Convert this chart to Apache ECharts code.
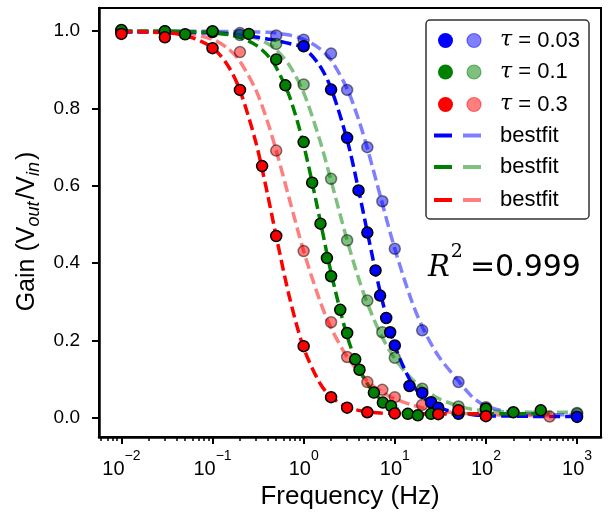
<!DOCTYPE html>
<html><head><meta charset="utf-8">
<script src="https://cdn.jsdelivr.net/npm/echarts@6/dist/echarts.min.js"></script>
<style>html,body{margin:0;padding:0;background:#fff}#c{width:609px;height:518px}</style>
</head><body><div id="c"></div>
<script>
// ---- tick values ----
const xTicks = [0.01, 0.1, 1, 10, 100, 1000];
const yTicks = [0, 0.2, 0.4, 0.6, 0.8, 1.0];

// ---- measured points (frequency Hz, gain) ----
const fBlue  = [0.01, 0.03, 0.1, 1, 2, 3, 4, 5, 6.15, 6.9, 8.05, 8.9, 10, 14.5, 20, 25, 30, 50, 1000];
const gBlue  = [1.0, 0.999, 0.998, 0.961, 0.849, 0.724, 0.588, 0.479, 0.381, 0.316, 0.258, 0.221, 0.187, 0.082, 0.064, 0.040, 0.026, 0.010, 0.002];
const fGreen = [0.01, 0.03, 0.05, 0.1, 0.25, 0.5, 0.63, 1, 1.24, 1.53, 1.8, 2, 2.52, 3, 3.68, 4.1, 5.9, 7.4, 9.1, 13.9, 17.9, 25, 100, 200, 400];
const gGreen = [1.003, 1.0, 0.992, 1.0, 0.993, 0.927, 0.86, 0.713, 0.608, 0.502, 0.413, 0.366, 0.279, 0.219, 0.151, 0.124, 0.065, 0.039, 0.030, 0.010, 0.006, 0.010, 0.023, 0.014, 0.019];
const fRed   = [0.01, 0.03, 0.1, 0.2, 0.35, 0.5, 1, 2, 3, 5, 10, 30, 50, 100];
const gRed   = [0.993, 0.984, 0.956, 0.848, 0.651, 0.470, 0.185, 0.053, 0.026, 0.014, 0.011, 0.009, 0.019, 0.004];

const fBlueL  = [0.2, 0.5, 1, 2, 3, 5, 7.3, 10, 20, 50, 100, 1000];
const gBlueL  = [0.995, 0.989, 0.978, 0.942, 0.848, 0.700, 0.560, 0.437, 0.226, 0.092, 0.027, 0.010];
const fGreenL = [0.2, 0.5, 1, 2, 3, 5, 7.3, 10, 20, 50, 100, 1000];
const gGreenL = [0.990, 0.967, 0.862, 0.618, 0.459, 0.303, 0.221, 0.155, 0.075, 0.029, 0.023, 0.012];
const fRedL   = [0.2, 0.5, 1, 2, 3, 5, 7.3, 10, 20, 50, 100, 500];
const gRedL   = [0.946, 0.691, 0.431, 0.247, 0.157, 0.092, 0.072, 0.053, 0.033, 0.015, 0.010, 0.003];

// ---- best-fit curves ----
const fitF = [0.01, 0.02, 0.05, 0.1, 0.15, 0.2, 0.3, 0.4, 0.5, 0.7, 1, 1.5, 2, 3, 4, 5, 7, 10, 15, 20, 30, 50, 70, 100, 200, 500, 1000];
const fitBlue   = [0.998, 0.998, 0.997, 0.995, 0.993, 0.990, 0.985, 0.980, 0.976, 0.968, 0.957, 0.911, 0.852, 0.719, 0.590, 0.480, 0.320, 0.187, 0.093, 0.055, 0.027, 0.012, 0.008, 0.005, 0.004, 0.003, 0.003];
const fitGreen  = [1.0, 1.0, 0.999, 0.996, 0.991, 0.984, 0.964, 0.938, 0.906, 0.831, 0.706, 0.516, 0.375, 0.211, 0.131, 0.088, 0.047, 0.025, 0.014, 0.011, 0.010, 0.010, 0.010, 0.010, 0.010, 0.010];
const fitRed    = [0.999, 0.998, 0.989, 0.957, 0.908, 0.847, 0.711, 0.580, 0.469, 0.311, 0.181, 0.090, 0.054, 0.027, 0.019, 0.015, 0.012, 0.011, 0.010, 0.010, 0.010, 0.010, 0.010, 0.010];
const fitBlueL  = [1.0, 1.0, 1.0, 1.0, 0.999, 0.999, 0.998, 0.997, 0.995, 0.990, 0.979, 0.955, 0.925, 0.851, 0.772, 0.697, 0.570, 0.437, 0.308, 0.236, 0.160, 0.095, 0.055, 0.030, 0.013, 0.008, 0.007];
const fitGreenL = [1.0, 1.0, 0.999, 0.998, 0.995, 0.992, 0.982, 0.968, 0.952, 0.911, 0.841, 0.719, 0.613, 0.459, 0.361, 0.296, 0.216, 0.153, 0.103, 0.077, 0.050, 0.030, 0.022, 0.018, 0.015, 0.014, 0.014];
const fitRedL   = [1.0, 0.999, 0.995, 0.979, 0.954, 0.922, 0.847, 0.767, 0.691, 0.564, 0.431, 0.304, 0.232, 0.157, 0.120, 0.095, 0.068, 0.049, 0.034, 0.026, 0.018, 0.012, 0.010, 0.008, 0.006, 0.005];

const legendLabels = ['τ = 0.03', 'τ = 0.1', 'τ = 0.3', 'bestfit', 'bestfit', 'bestfit'];
const rSquaredText = '0.999';

// ---- helpers ----
function pairs(f, g) { const n = Math.min(f.length, g.length); const out = []; for (let i = 0; i < n; i++) out.push([f[i], g[i]]); return out; }
const FONT = 'Liberation Sans';
const C = {
  blue: '#0000ff', green: '#008000', red: '#ff0000',
  blueL: 'rgba(0,0,255,0.5)', greenL: 'rgba(0,128,0,0.5)', redL: 'rgba(255,0,0,0.5)'
};
function fitSeries(name, data, color, z) {
  return { name, type: 'line', data, smooth: 0.3, symbol: 'none', silent: true, z,
    lineStyle: { color, width: 3.5, type: [11, 5], cap: 'butt' } };
}
function ptSeries(name, data, color, edge, z) {
  return { name, type: 'scatter', data, symbol: 'circle', symbolSize: 11, silent: true, z,
    itemStyle: { color, borderColor: edge, borderWidth: 1.5, opacity: 1 } };
}
const minorTicks = [];
for (let d = -3; d <= 3; d++) for (let k = 2; k <= 9; k++) {
  const v = +(k * Math.pow(10, d)).toPrecision(3);
  if (v > 0.00568 && v < 1832) minorTicks.push(v);
}
const xMin = 0.00568, xMax = 1832;

const chart = echarts.init(document.getElementById('c'), null, { renderer: 'canvas' });
const legendX1 = 445.5, legendX2 = 474, rows = [40.5, 72, 104.5, 135.5, 167, 200];
const legendGraphics = [
  { type: 'rect', shape: { x: 426, y: 20, width: 163, height: 199, r: 4 }, style: { fill: '#fff', stroke: '#333', lineWidth: 1.5 }, z: 100 }
];
const darkCols = [C.blue, C.green, C.red], lightCols = [C.blueL, C.greenL, C.redL];
for (let i = 0; i < 3; i++) {
  legendGraphics.push({ type: 'circle', shape: { cx: legendX1, cy: rows[i], r: 7.5 }, style: { fill: darkCols[i] }, z: 101 });
  legendGraphics.push({ type: 'circle', shape: { cx: legendX2, cy: rows[i], r: 7 }, style: { fill: lightCols[i], stroke: lightCols[i], lineWidth: 1.2 }, z: 101 });
  legendGraphics.push({ type: 'line', shape: { x1: 434, y1: rows[i + 3], x2: 452, y2: rows[i + 3] }, style: { stroke: darkCols[i], lineWidth: 4 }, z: 101 });
  legendGraphics.push({ type: 'line', shape: { x1: 463, y1: rows[i + 3], x2: 481, y2: rows[i + 3] }, style: { stroke: lightCols[i], lineWidth: 4 }, z: 101 });
}
for (let i = 0; i < 6; i++) {
  const isTau = i < 3;
  legendGraphics.push({ type: 'text', x: 500, y: rows[i], z: 101, style: isTau ? {
      text: '{t|τ}{n| = ' + legendLabels[i].split('= ')[1] + '}', verticalAlign: 'middle', align: 'left',
      rich: { t: { fontFamily: 'DejaVu Serif', fontStyle: 'italic', fontSize: 22, fill: '#000' },
              n: { fontFamily: FONT, fontSize: 22, fill: '#000' } } }
    : { text: legendLabels[i], font: '22px ' + FONT, fill: '#000', verticalAlign: 'middle', align: 'left' } });
}
legendGraphics.push({ type: 'text', x: 428, y: 263, z: 50, style: {
  text: '{r|R}{s|2}{t|=' + rSquaredText + '}', verticalAlign: 'middle', align: 'left',
  rich: {
    r: { fontFamily: 'DejaVu Serif', fontStyle: 'italic', fontSize: 29, lineHeight: 40, verticalAlign: 'bottom', fill: '#000' },
    s: { fontFamily: 'DejaVu Serif', fontSize: 19, lineHeight: 26, verticalAlign: 'top', fill: '#000', padding: [0, 0, 0, 1] },
    t: { fontFamily: 'DejaVu Sans', fontSize: 30, lineHeight: 40, verticalAlign: 'bottom', fill: '#000', padding: [0, 0, 0, 7] }
  } } });

const option = {
  animation: false,
  backgroundColor: '#fff',
  grid: { left: 99, top: 8, width: 502, height: 429, show: true, borderColor: '#000', borderWidth: 2, backgroundColor: 'transparent' },
  xAxis: [{
    type: 'log', logBase: 10, min: xMin, max: xMax, position: 'bottom',
    name: 'Frequency (Hz)', nameLocation: 'middle', nameGap: 36,
    nameTextStyle: { fontFamily: FONT, fontSize: 26, color: '#000' },
    axisLine: { show: true, onZero: false, lineStyle: { color: '#000', width: 2.5 } },
    axisTick: { show: true, inside: false, length: 7, lineStyle: { color: '#000', width: 2 }, customValues: xTicks },
    axisLabel: { show: true, margin: 12, customValues: xTicks, color: '#000',
      formatter: v => { const e = Math.round(Math.log10(v)); return '{b|10}{s|' + String(e).replace('-', '−') + '}'; },
      rich: { b: { fontFamily: FONT, fontSize: 20, lineHeight: 30, verticalAlign: 'bottom', color: '#000' },
              s: { fontFamily: FONT, fontSize: 14, lineHeight: 15, verticalAlign: 'top', color: '#000' } } },
    splitLine: { show: false }, minorTick: { show: false }, minorSplitLine: { show: false }
  }, {
    type: 'log', logBase: 10, min: xMin, max: xMax, position: 'bottom', gridIndex: 0,
    axisLine: { show: false, onZero: false }, axisLabel: { show: false }, splitLine: { show: false },
    axisTick: { show: true, inside: false, length: 4, lineStyle: { color: '#000', width: 1.5 }, customValues: minorTicks }
  }],
  yAxis: {
    type: 'value', min: -0.05, max: 1.06,
    name: '{a|Gain (V}{s|out}{a|/V}{s|in}{a|)}', nameLocation: 'middle', nameGap: 54,
    nameTextStyle: { padding: [0, 18, 0, 0], rich: {
      a: { fontFamily: FONT, fontSize: 25, lineHeight: 32, verticalAlign: 'middle', color: '#000' },
      s: { fontFamily: FONT, fontSize: 18, fontStyle: 'italic', lineHeight: 17, verticalAlign: 'bottom', color: '#000', padding: [0, 2, 0, 0] } } },
    axisLine: { show: true, onZero: false, lineStyle: { color: '#000', width: 2.5 } },
    axisTick: { show: true, inside: false, length: 7, lineStyle: { color: '#000', width: 2 }, customValues: yTicks },
    axisLabel: { show: true, margin: 19, customValues: yTicks, color: '#000', fontFamily: FONT, fontSize: 19,
      formatter: v => v.toFixed(1) },
    splitLine: { show: false }
  },
  graphic: legendGraphics,
  series: [
    fitSeries('fitBlueL', pairs(fitF, fitBlueL), C.blueL, 2),
    fitSeries('fitGreenL', pairs(fitF, fitGreenL), C.greenL, 2),
    fitSeries('fitRedL', pairs(fitF, fitRedL), C.redL, 2),
    fitSeries('fitBlue', pairs(fitF, fitBlue), C.blue, 3),
    fitSeries('fitGreen', pairs(fitF, fitGreen), C.green, 3),
    fitSeries('fitRed', pairs(fitF, fitRed), C.red, 3),
    ptSeries('τ = 0.03 (light)', pairs(fBlueL, gBlueL), C.blueL, 'rgba(0,0,0,0.5)', 4),
    ptSeries('τ = 0.1 (light)', pairs(fGreenL, gGreenL), C.greenL, 'rgba(0,0,0,0.5)', 4),
    ptSeries('τ = 0.3 (light)', pairs(fRedL, gRedL), C.redL, 'rgba(0,0,0,0.5)', 4),
    ptSeries('τ = 0.03', pairs(fBlue, gBlue), C.blue, '#000', 5),
    ptSeries('τ = 0.1', pairs(fGreen, gGreen), C.green, '#000', 6),
    ptSeries('τ = 0.3', pairs(fRed, gRed), C.red, '#000', 7)
  ]
};
option.series.forEach(s => { s.xAxisIndex = 0; s.yAxisIndex = 0; });
chart.setOption(option);
</script></body></html>
